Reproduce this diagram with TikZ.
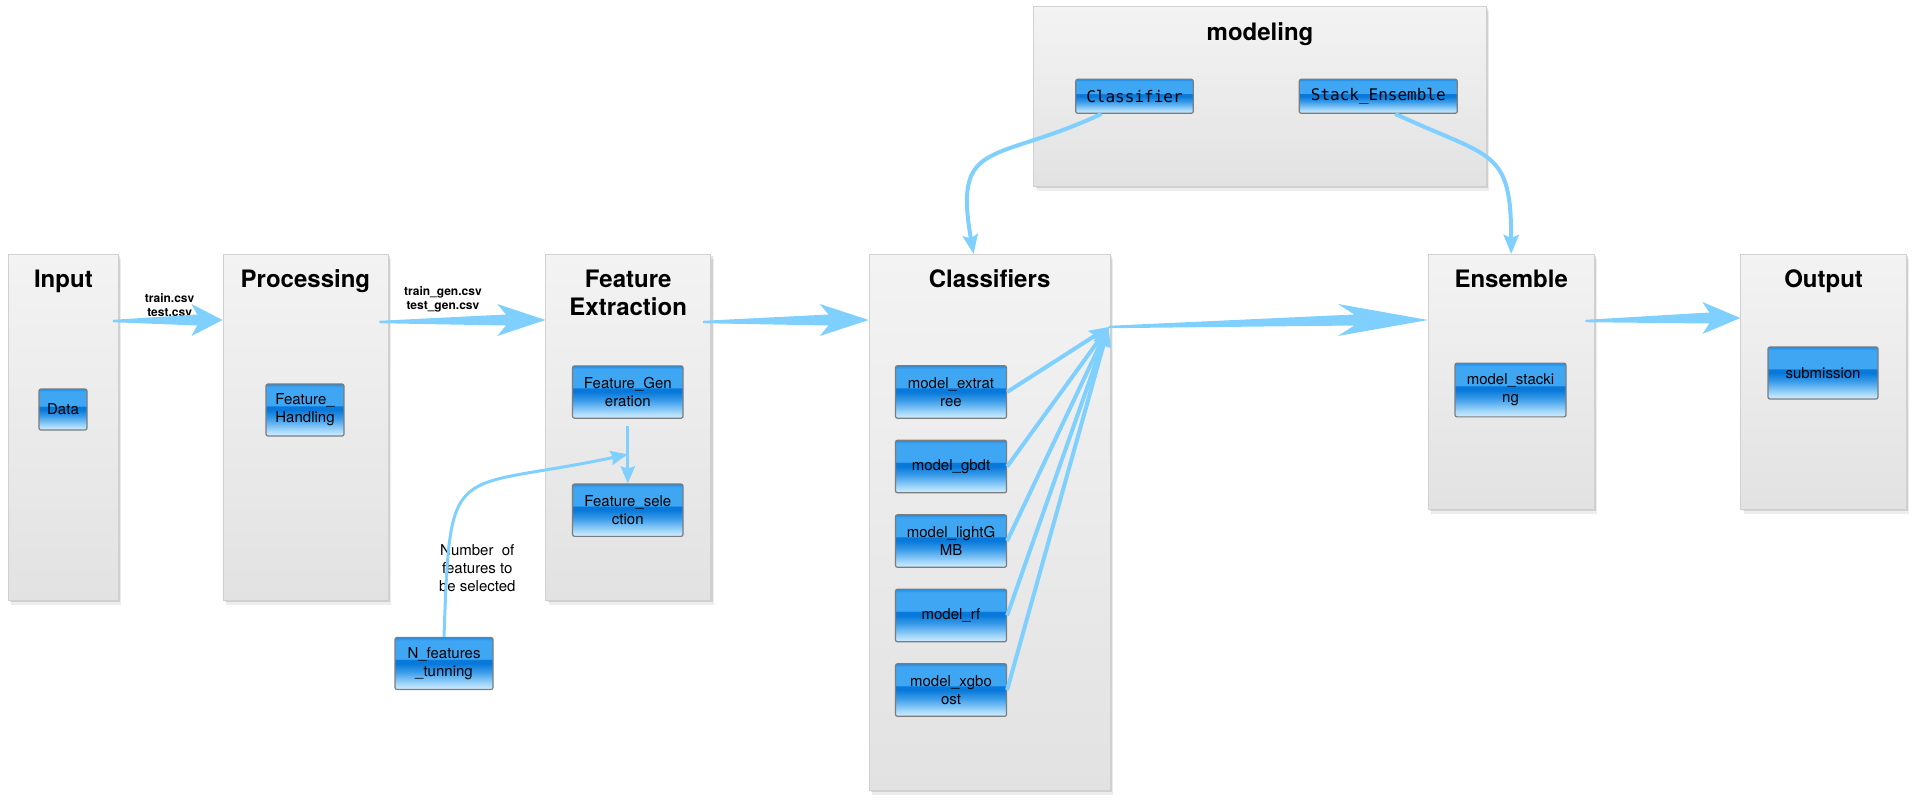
\documentclass[tikz,border=0pt]{standalone}
\usepackage{fontspec}
\setmainfont{TeX Gyre Heros}
\setmonofont{DejaVu Sans Mono}
\usetikzlibrary{positioning,calc,shadows,arrows.meta}
\definecolor{flow}{HTML}{80D0FF}
\definecolor{paneltop}{HTML}{F3F3F3}
\definecolor{panelbot}{HTML}{E2E2E2}
\definecolor{panelline}{HTML}{D0D0D0}
\definecolor{btnline}{HTML}{7C7C7C}
\definecolor{btnlo}{HTML}{D2EDFF}
\definecolor{btnfade}{HTML}{A8DAFB}
\definecolor{btnmid}{HTML}{3A9CEA}
\definecolor{btndark}{HTML}{0879DA}
\definecolor{btnband}{HTML}{3FA6F3}
\definecolor{btntop}{HTML}{1D8DE8}
\pgfdeclareverticalshading{btnshade}{100bp}{color(0bp)=(btnlo); color(25bp)=(btnlo); color(30bp)=(btnfade); color(42bp)=(btnmid); color(50bp)=(btndark); color(53.5bp)=(btndark); color(54.5bp)=(btnband); color(72bp)=(btnband); color(75bp)=(btntop); color(100bp)=(btntop)}

\begin{document}
\begin{tikzpicture}[
x=1pt, y=-1pt,
panel/.style={rectangle,draw=panelline,line width=0.8pt,top color=paneltop,bottom color=panelbot,anchor=north west,inner sep=0pt,
  drop shadow={shadow xshift=2pt,shadow yshift=-2pt,opacity=.12,fill=black},
  drop shadow={shadow xshift=3pt,shadow yshift=-5pt,opacity=.07,fill=black}},
btn/.style={rectangle,rounded corners=2pt,draw=btnline,line width=1.2pt,shading=btnshade,inner sep=1pt,align=center,font=\fontsize{15}{18.3}\selectfont},
mono/.style={btn,font=\fontsize{16}{18}\selectfont\ttfamily},
ttl/.style={anchor=north,inner sep=0pt,align=center,font=\fontsize{24}{28.7}\selectfont\bfseries},
fname/.style={align=center,inner sep=0pt,font=\fontsize{12}{14}\selectfont\bfseries},
hint/.style={align=center,inner sep=0pt,font=\fontsize{15}{18.3}\selectfont},
flowline/.style={draw=flow,line width=4pt,-{Stealth[length=19pt,width=15pt,inset=3pt]}},
thinline/.style={draw=flow,line width=3pt,-{Stealth[length=17pt,width=14pt,inset=2pt]}},
bigarrow/.style={fill=flow,to path={
  ($(\tikztostart)+(0,-1.2)$) -- ($(\tikztotarget)+(-0.82*#1,-5.5)$) -- ($(\tikztotarget)+(-#1,-16)$)
  -- (\tikztotarget) -- ($(\tikztotarget)+(-#1,16)$) -- ($(\tikztotarget)+(-0.82*#1,5.5)$)
  -- ($(\tikztostart)+(0,1.2)$) -- cycle}}
]
\useasboundingbox (0,0) rectangle (1917,804);

\node[panel,minimum width=110,minimum height=346] (inp) at (8,254) {};
\node[panel,minimum width=165,minimum height=346] (proc) at (222.5,254) {};
\node[panel,minimum width=165,minimum height=346] (fext) at (545.3,254) {};
\node[panel,minimum width=241,minimum height=536] (clf) at (868.7,254) {};
\node[panel,minimum width=165.6,minimum height=255] (ens) at (1428,254) {};
\node[panel,minimum width=165.6,minimum height=255] (outp) at (1740.4,254) {};
\node[panel,minimum width=452.7,minimum height=180] (modl) at (1033.3,6) {};

\node[ttl] (tinp) at ([shift={(0,15.5)}]inp.north) {Input};
\node[ttl] (tproc) at ([shift={(0,15.5)}]proc.north) {Processing};
\node[ttl] (tfext) at ([shift={(0,15.5)}]fext.north) {Feature\\Extraction};
\node[ttl] (tclf) at ([shift={(0,15.5)}]clf.north) {Classifiers};
\node[ttl] (tens) at ([shift={(0,15.5)}]ens.north) {Ensemble};
\node[ttl] (toutp) at ([shift={(0,15.5)}]outp.north) {Output};
\node[ttl] (tmodl) at ([shift={(0,16.5)}]modl.north) {modeling};

\node[btn,minimum width=48,minimum height=41] (data) at (63,409.5) {Data};
\node[btn,minimum width=78,minimum height=52] (fh) at (305,410) {Feature\_\\Handling};
\node[btn,minimum width=110.5,minimum height=52.3] (fgen) at (627.8,392) {Feature\_Gen\\eration};
\node[btn,minimum width=110.5,minimum height=52.3,below=64.7pt of fgen] (fsel) {Feature\_sele\\ction};
\node[btn,minimum width=98,minimum height=52] (nft) at (444,663.5) {N\_features\\\_tunning};

\node[btn,minimum width=111,minimum height=52.6] (m1) at (951,392) {model\_extrat\\ree};
\node[btn,minimum width=111,minimum height=52.6,below=20.7pt of m1] (m2) {model\_gbdt};
\node[btn,minimum width=111,minimum height=52.6,below=20.7pt of m2] (m3) {model\_lightG\\MB};
\node[btn,minimum width=111,minimum height=52.6,below=20.7pt of m3] (m4) {model\_rf};
\node[btn,minimum width=111,minimum height=52.6,below=20.7pt of m4] (m5) {model\_xgbo\\ost};

\node[btn,minimum width=111,minimum height=53.7] (stk) at (1510.5,390) {model\_stacki\\ng};
\node[btn,minimum width=110,minimum height=52] (sub) at (1823,373) {submission};

\node[mono,minimum width=117.6,minimum height=34] (clsf) at (1134.5,96.3) {Classifier};
\node[mono,minimum width=158,minimum height=34] (stke) at (1378.3,96.3) {Stack\_Ensemble};

\node[fname] (f1) at (169.6,304.7) {train.csv\\test.csv};
\node[fname] (f2) at (442.9,299) {train\_gen.csv\\test\_gen.csv};
\node[hint] (nlab) at (477.3,568.3) {Number~ of\\features to\\be selected};

\coordinate (conv) at ([shift={(-2,73)}]clf.north east);
\coordinate (join) at ($(fgen.south)!0.55!(fsel.north)$);

\path[bigarrow=31] ([shift={(-6,67)}]inp.north east) to ([shift={(0,66)}]proc.north west);
\path[bigarrow=48] ([shift={(-9,68)}]proc.north east) to ([shift={(0,66)}]fext.north west);
\path[bigarrow=49] ([shift={(-8,68)}]fext.north east) to ([shift={(0,66)}]clf.north west);
\path[bigarrow=90] (conv) to ([shift={(0,66)}]ens.north west);
\path[bigarrow=38] ([shift={(-9,67)}]ens.north east) to ([shift={(0,64)}]outp.north west);

\foreach \m in {m1,m2,m3,m4,m5}
  \draw[flowline] (\m.east) -- (conv);

\draw[thinline] ([shift={(0,7)}]fgen.south) -- (fsel.north);
\draw[thinline] (nft.north) to[out=88,in=192,looseness=1.8] (join);
\draw[flowline] ([xshift=-33pt]clsf.south) to[out=-155,in=100,looseness=1.6] ([xshift=-16pt]clf.north);
\draw[flowline] ([xshift=17pt]stke.south) to[out=-25,in=90,looseness=1.5] (ens.north);

\end{tikzpicture}
\end{document}
